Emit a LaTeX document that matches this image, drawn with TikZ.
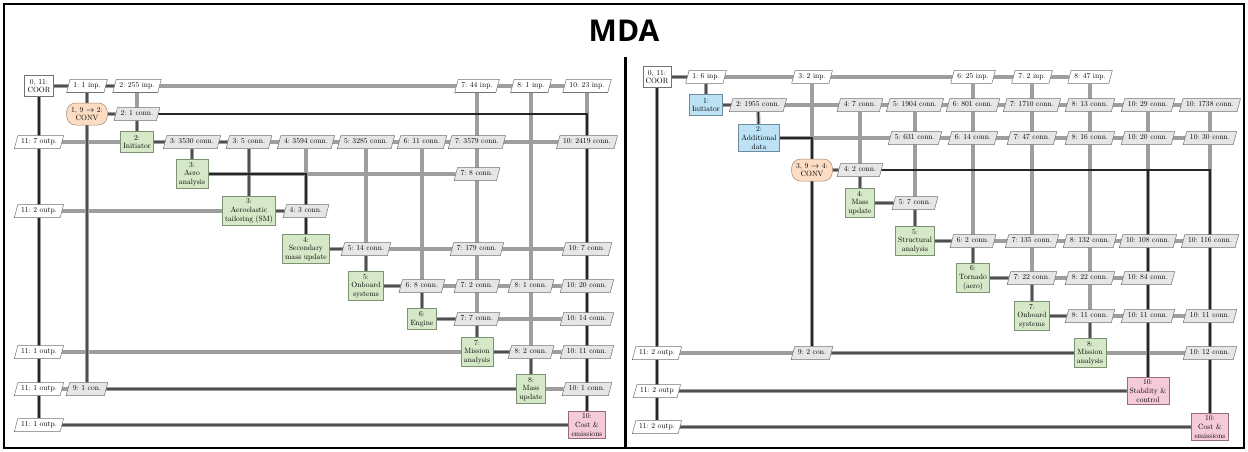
\documentclass[tikz,border=0pt]{standalone}
\usepackage{fontspec}
\newfontfamily\titlefont{Open Sans}
\newfontfamily\xdsmfont{lmroman10-regular}[Extension=.otf]
\frenchspacing
\usetikzlibrary{shapes.geometric}
\pgfdeclarelayer{bglayer}
\pgfdeclarelayer{dlayer}
\pgfdeclarelayer{player}
\pgfsetlayers{bglayer,dlayer,player,main}
\definecolor{gfill}{RGB}{213,232,199}
\definecolor{gborder}{RGB}{125,145,115}
\definecolor{bfill}{RGB}{189,226,245}
\definecolor{bborder}{RGB}{110,140,160}
\definecolor{ofill}{RGB}{252,221,196}
\definecolor{oborder}{RGB}{165,135,110}
\definecolor{pfill}{RGB}{245,203,217}
\definecolor{pborder}{RGB}{150,110,122}
\definecolor{cfill}{RGB}{230,230,230}
\tikzset{
  lbl/.style={font=\xdsmfont\fontsize{7.6}{8.6}\selectfont, align=center},
  dia/.style={lbl, rectangle, draw=#1, line width=0.5pt, inner xsep=2.8pt, inner ysep=2.5pt, minimum height=21pt},
  coorbox/.style={dia=black!55, fill=white},
  funcbox/.style={dia=gborder, fill=gfill},
  prebox/.style={dia=bborder, fill=bfill},
  postbox/.style={dia=pborder, fill=pfill},
  convbox/.style={lbl, rectangle, draw=oborder, fill=ofill, line width=0.5pt, rounded corners=9pt, minimum height=22pt, inner xsep=4.5pt, inner ysep=2.5pt},
  inpbox/.style={lbl, trapezium, trapezium left angle=75, trapezium right angle=105, draw=black!55, fill=white, line width=0.5pt, text height=5.4pt, text depth=1.6pt, inner xsep=3.2pt, inner ysep=3pt},
  connbox/.style={inpbox, fill=cfill},
  dline/.style={draw=black!38, line width=3.8pt},
  pline/.style={draw=black!85, line width=1.2pt},
}
\begin{document}
\begin{tikzpicture}[x=1pt,y=-1pt]
\useasboundingbox (0,0) rectangle (1248,452);
\begin{pgfonlayer}{bglayer}
\fill[white] (0,0) rectangle (1248,452);
\end{pgfonlayer}
\draw[line width=2pt] (4,4) rectangle (1244,448);
\draw[line width=3pt] (625,57) -- (625,448);
\node[font=\titlefont\bfseries\fontsize{30}{36}\selectfont] (title) at (624,31) {MDA};

% ================= LEFT PANEL =================
\node[coorbox] (L0x0) at (39,86) {0, 11:\\COOR};
\node[convbox] (L1x1) at (87,114) {1, 9 $\rightarrow$ 2:\\CONV};
\node[funcbox] (L2x2) at (137,142) {2:\\Initiator};
\node[funcbox] (L3x3) at (192,174) {3:\\Aero\\analysis};
\node[funcbox] (L4x4) at (249,211) {3:\\Aeroelastic\\tailoring (SM)};
\node[funcbox] (L5x5) at (306,249) {4:\\Secondary\\mass update};
\node[funcbox] (L6x6) at (366,286) {5:\\Onboard\\systems};
\node[funcbox] (L7x7) at (422,319) {6:\\Engine};
\node[funcbox] (L8x8) at (477,352) {7:\\Mission\\analysis};
\node[funcbox] (L9x9) at (531,389) {8:\\Mass\\update};
\node[postbox] (L10x10) at (587,425) {10:\\Cost \&\\emissions};
% row 0
\node[inpbox] (L0x1) at (87,86) {1: 1 inp.};
\node[inpbox] (L0x2) at (137,86) {2: 255 inp.};
\node[inpbox] (L0x8) at (477,86) {7: 44 inp.};
\node[inpbox] (L0x9) at (531,86) {8: 1 inp.};
\node[inpbox] (L0x10) at (587,86) {10: 23 inp.};
% row 1
\node[connbox] (L1x2) at (137,114) {2: 1 conn.};
% row 2
\node[inpbox] (L2x0) at (39,142) {11: 7 outp.};
\node[connbox] (L2x3) at (192,142) {3: 3530 conn.};
\node[connbox] (L2x4) at (249,142) {3: 5 conn.};
\node[connbox] (L2x5) at (306,142) {4: 3594 conn.};
\node[connbox] (L2x6) at (366,142) {5: 3285 conn.};
\node[connbox] (L2x7) at (422,142) {6: 11 conn.};
\node[connbox] (L2x8) at (477,142) {7: 3579 conn.};
\node[connbox] (L2x10) at (587,142) {10: 2419 conn.};
% row 3
\node[connbox] (L3x8) at (477,174) {7: 8 conn.};
% row 4
\node[inpbox] (L4x0) at (39,211) {11: 2 outp.};
\node[connbox] (L4x5) at (306,211) {4: 3 conn.};
% row 5
\node[connbox] (L5x6) at (366,249) {5: 14 conn.};
\node[connbox] (L5x8) at (477,249) {7: 179 conn.};
\node[connbox] (L5x10) at (587,249) {10: 7 conn.};
% row 6
\node[connbox] (L6x7) at (422,286) {6: 8 conn.};
\node[connbox] (L6x8) at (477,286) {7: 2 conn.};
\node[connbox] (L6x9) at (531,286) {8: 1 conn.};
\node[connbox] (L6x10) at (587,286) {10: 20 conn.};
% row 7
\node[connbox] (L7x8) at (477,319) {7: 7 conn.};
\node[connbox] (L7x10) at (587,319) {10: 14 conn.};
% row 8
\node[inpbox] (L8x0) at (39,352) {11: 1 outp.};
\node[connbox] (L8x9) at (531,352) {8: 2 conn.};
\node[connbox] (L8x10) at (587,352) {10: 11 conn.};
% row 9
\node[inpbox] (L9x0) at (39,389) {11: 1 outp.};
\node[connbox] (L9x1) at (87,389) {9: 1 con.};
\node[connbox] (L9x10) at (587,389) {10: 1 conn.};
% row 10
\node[inpbox] (L10x0) at (39,425) {11: 1 outp.};

% ================= RIGHT PANEL =================
\node[coorbox] (R0x0) at (657,77) {0, 11:\\COOR};
\node[prebox] (R1x1) at (706,105) {1:\\Initiator};
\node[prebox] (R2x2) at (759,138) {2:\\Additional\\data};
\node[convbox] (R3x3) at (812,170) {3, 9 $\rightarrow$ 4:\\CONV};
\node[funcbox] (R4x4) at (860,203) {4:\\Mass\\update};
\node[funcbox] (R5x5) at (915,241) {5:\\Structural\\analysis};
\node[funcbox] (R6x6) at (973,278) {6:\\Tornado\\(aero)};
\node[funcbox] (R7x7) at (1032,316) {7:\\Onboard\\systems};
\node[funcbox] (R8x8) at (1090,353) {8:\\Mission\\analysis};
\node[postbox] (R9x9) at (1148,391) {10:\\Stability \&\\control};
\node[postbox] (R10x10) at (1210,427) {10:\\Cost \&\\emissions};
% row 0
\node[inpbox] (R0x1) at (706,77) {1: 6 inp.};
\node[inpbox] (R0x3) at (812,77) {3: 2 inp.};
\node[inpbox] (R0x6) at (973,77) {6: 25 inp.};
\node[inpbox] (R0x7) at (1032,77) {7: 2 inp.};
\node[inpbox] (R0x8) at (1090,77) {8: 47 inp.};
% row 1
\node[connbox] (R1x2) at (758,105) {2: 1955 conn.};
\node[connbox] (R1x4) at (860,105) {4: 7 conn.};
\node[connbox] (R1x5) at (915,105) {5: 1904 conn.};
\node[connbox] (R1x6) at (973,105) {6: 801 conn.};
\node[connbox] (R1x7) at (1032,105) {7: 1710 conn.};
\node[connbox] (R1x8) at (1090,105) {8: 13 conn.};
\node[connbox] (R1x9) at (1148,105) {10: 29 conn.};
\node[connbox] (R1x10) at (1210,105) {10: 1738 conn.};
% row 2
\node[connbox] (R2x5) at (915,138) {5: 631 conn.};
\node[connbox] (R2x6) at (973,138) {6: 14 conn.};
\node[connbox] (R2x7) at (1032,138) {7: 47 conn.};
\node[connbox] (R2x8) at (1090,138) {8: 16 conn.};
\node[connbox] (R2x9) at (1148,138) {10: 20 conn.};
\node[connbox] (R2x10) at (1210,138) {10: 30 conn.};
% row 3
\node[connbox] (R3x4) at (860,170) {4: 2 conn.};
% row 4
\node[connbox] (R4x5) at (915,203) {5: 7 conn.};
% row 5
\node[connbox] (R5x6) at (973,241) {6: 2 conn.};
\node[connbox] (R5x7) at (1032,241) {7: 135 conn.};
\node[connbox] (R5x8) at (1090,241) {8: 132 conn.};
\node[connbox] (R5x9) at (1148,241) {10: 108 conn.};
\node[connbox] (R5x10) at (1210,241) {10: 116 conn.};
% row 6
\node[connbox] (R6x7) at (1032,278) {7: 22 conn.};
\node[connbox] (R6x8) at (1090,278) {8: 22 conn.};
\node[connbox] (R6x9) at (1148,278) {10: 84 conn.};
% row 7
\node[connbox] (R7x8) at (1090,316) {8: 11 conn.};
\node[connbox] (R7x9) at (1148,316) {10: 11 conn.};
\node[connbox] (R7x10) at (1210,316) {10: 11 conn.};
% row 8
\node[inpbox] (R8x0) at (657,353) {11: 2 outp.};
\node[connbox] (R8x3) at (812,353) {9: 2 con.};
\node[connbox] (R8x10) at (1210,353) {10: 12 conn.};
% row 9
\node[inpbox] (R9x0) at (657,391) {11: 2 outp};
% row 10
\node[inpbox] (R10x0) at (657,427) {11: 2 outp.};

% ================= DATA LINES =================
\begin{pgfonlayer}{dlayer}
\draw[dline] (L0x0) -- (L0x10);
\draw[dline] (L0x0) -- (L10x0);
\draw[dline] (L2x0) -- (L2x2);
\draw[dline] (L4x0) -- (L4x4);
\draw[dline] (L8x0) -- (L8x8);
\draw[dline] (L9x0) -- (L9x9);
\draw[dline] (L10x0) -- (L10x10);
\draw[dline] (L0x1) -- (L9x1);
\draw[dline] (L1x1) -- (L1x2);
\draw[dline] (L0x2) -- (L2x2);
\draw[dline] (L2x2) -- (L2x10);
\draw[dline] (L2x3) -- (L3x3);
\draw[dline] (L2x4) -- (L4x4);
\draw[dline] (L3x3) -- (L3x8);
\draw[dline] (L2x5) -- (L5x5);
\draw[dline] (L4x4) -- (L4x5);
\draw[dline] (L2x6) -- (L6x6);
\draw[dline] (L5x5) -- (L5x10);
\draw[dline] (L2x7) -- (L7x7);
\draw[dline] (L6x6) -- (L6x10);
\draw[dline] (L0x8) -- (L8x8);
\draw[dline] (L7x7) -- (L7x10);
\draw[dline] (L0x9) -- (L9x9);
\draw[dline] (L8x8) -- (L8x10);
\draw[dline] (L9x9) -- (L9x10);
\draw[dline] (L0x10) -- (L10x10);
% right
\draw[dline] (R0x0) -- (R0x8);
\draw[dline] (R0x0) -- (R10x0);
\draw[dline] (R0x1) -- (R1x1);
\draw[dline] (R1x1) -- (R1x10);
\draw[dline] (R1x2) -- (R2x2);
\draw[dline] (R2x2) -- (R2x10);
\draw[dline] (R0x3) -- (R8x3);
\draw[dline] (R3x3) -- (R3x4);
\draw[dline] (R1x4) -- (R4x4);
\draw[dline] (R4x4) -- (R4x5);
\draw[dline] (R1x5) -- (R5x5);
\draw[dline] (R5x5) -- (R5x10);
\draw[dline] (R0x6) -- (R6x6);
\draw[dline] (R6x6) -- (R6x9);
\draw[dline] (R0x7) -- (R7x7);
\draw[dline] (R7x7) -- (R7x10);
\draw[dline] (R0x8) -- (R8x8);
\draw[dline] (R8x0) -- (R8x10);
\draw[dline] (R1x9) -- (R9x9);
\draw[dline] (R1x10) -- (R10x10);
\draw[dline] (R9x0) -- (R9x9);
\draw[dline] (R10x0) -- (R10x10);
\end{pgfonlayer}

% ================= PROCESS LINES =================
\begin{pgfonlayer}{player}
\draw[pline] (L0x0) -- (L0x2);
\draw[pline] (L0x0) -- (L10x0);
\draw[pline] (L0x1) -- (L9x1);
\draw[pline] (L1x1) -- (L1x2);
\draw[pline] (L1x2) -- (L2x2);
\draw[pline] (L1x2) -| (L10x10);
\draw[pline] (L2x2) -- (L2x4);
\draw[pline] (L2x3) -- (L3x3);
\draw[pline] (L2x4) -- (L4x4);
\draw[pline] (L3x3) -| (L5x5);
\draw[pline] (L4x4) -- (L4x5);
\draw[pline] (L5x5) -- (L5x6);
\draw[pline] (L5x6) -- (L6x6);
\draw[pline] (L6x6) -- (L6x7);
\draw[pline] (L6x7) -- (L7x7);
\draw[pline] (L7x7) -- (L7x8);
\draw[pline] (L7x8) -- (L8x8);
\draw[pline] (L8x8) -- (L8x9);
\draw[pline] (L8x9) -- (L9x9);
\draw[pline] (L9x9) -- (L9x1);
\draw[pline] (L10x10) -- (L10x0);
% right
\draw[pline] (R0x0) -- (R0x1);
\draw[pline] (R0x0) -- (R10x0);
\draw[pline] (R0x1) -- (R1x1);
\draw[pline] (R1x1) -- (R1x2);
\draw[pline] (R1x2) -- (R2x2);
\draw[pline] (R2x2) -| (R3x3);
\draw[pline] (R3x3) -- (R8x3);
\draw[pline] (R3x3) -- (R3x4);
\draw[pline] (R3x4) -| (R10x10);
\draw[pline] (R3x4) -| (R9x9);
\draw[pline] (R3x4) -- (R4x4);
\draw[pline] (R4x4) -- (R4x5);
\draw[pline] (R4x5) -- (R5x5);
\draw[pline] (R5x5) -- (R5x6);
\draw[pline] (R5x6) -- (R6x6);
\draw[pline] (R6x6) -- (R6x7);
\draw[pline] (R6x7) -- (R7x7);
\draw[pline] (R7x7) -- (R7x8);
\draw[pline] (R7x8) -- (R8x8);
\draw[pline] (R8x8) -- (R8x3);
\draw[pline] (R9x9) -- (R9x0);
\draw[pline] (R10x10) -- (R10x0);
\end{pgfonlayer}
\end{tikzpicture}
\end{document}
